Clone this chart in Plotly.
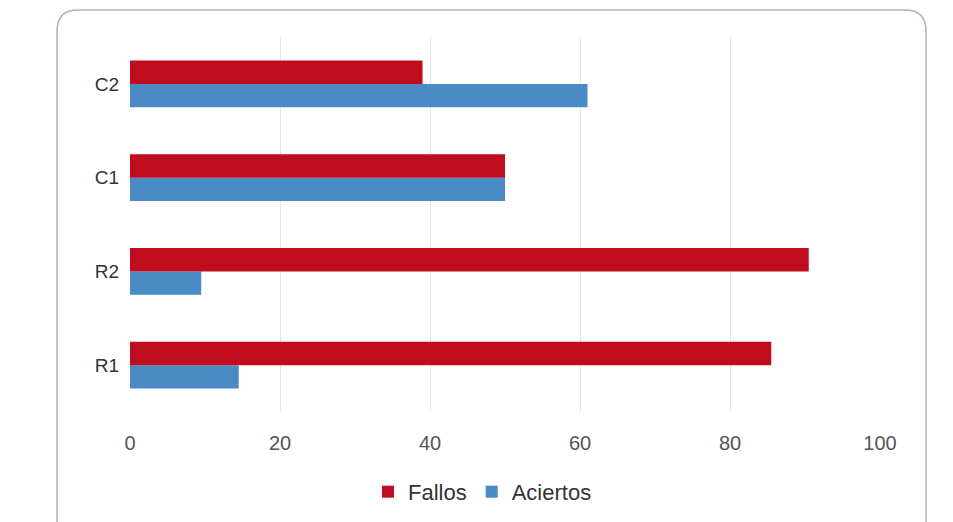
import plotly.graph_objects as go

categories = ["R1", "R2", "C1", "C2"]
fallos = [85.5, 90.5, 50, 39]
aciertos = [14.5, 9.5, 50, 61]
x_ticks = [0, 20, 40, 60, 80, 100]

RED = "#C00D1E"
BLUE = "#4A8BC6"

fig = go.Figure()
fig.add_trace(go.Bar(y=categories, x=aciertos, name="Aciertos", orientation="h",
                     marker=dict(color=BLUE, line=dict(width=0))))
fig.add_trace(go.Bar(y=categories, x=fallos, name="Fallos", orientation="h",
                     marker=dict(color=RED, line=dict(width=0))))

# rounded outer border (paper coords)
L, R, T, B = -0.0973, 1.0613, 1.072, -0.36
rx, ry = 0.028, 0.056
path = (f"M {L+rx},{T} L {R-rx},{T} Q {R},{T} {R},{T-ry} L {R},{B+ry} "
        f"Q {R},{B} {R-rx},{B} L {L+rx},{B} Q {L},{B} {L},{B+ry} L {L},{T-ry} Q {L},{T} {L+rx},{T} Z")
fig.add_shape(type="path", path=path, xref="paper", yref="paper",
              line=dict(color="#A9B4C2", width=1.5), fillcolor="rgba(0,0,0,0)", layer="below")

fig.update_layout(
    width=953, height=522,
    margin=dict(l=122, r=81, t=29, b=118),
    paper_bgcolor="white", plot_bgcolor="white",
    barmode="group", bargap=0.5, bargroupgap=0,
    font=dict(family="Liberation Sans, Arial, sans-serif", size=18, color="#444"),
    xaxis=dict(range=[0, 100], tickvals=x_ticks, showgrid=True, gridcolor="#E6E6E6",
               gridwidth=1, zeroline=False, showline=False, ticks="",
               tickfont=dict(size=20, color="#555"), ticklabelstandoff=17, fixedrange=True),
    yaxis=dict(categoryorder="array", categoryarray=categories, showgrid=False,
               zeroline=False, showline=False, ticks="", ticklabelstandoff=10,
               tickfont=dict(size=19, color="#333"), fixedrange=True),
    legend=dict(orientation="h", x=0.47, xanchor="center", y=-0.213, yanchor="middle",
                traceorder="reversed", font=dict(size=22, color="#333"),
                itemwidth=30, tracegroupgap=0),
    showlegend=True,
)

fig.write_html("out.html")
